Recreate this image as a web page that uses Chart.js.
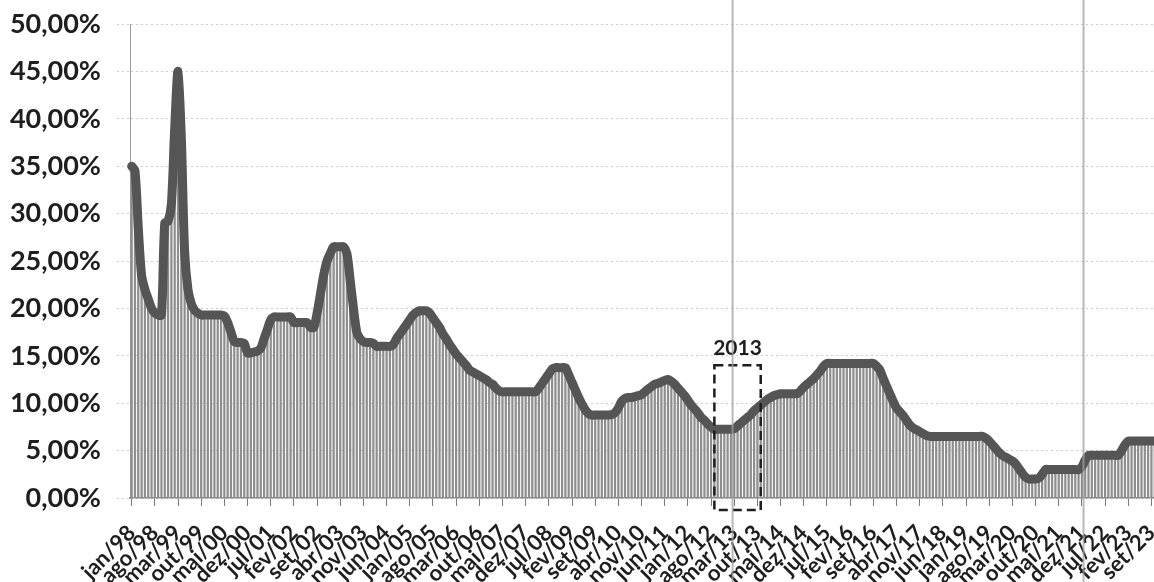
<!DOCTYPE html>
<html>
<head>
<meta charset="utf-8">
<script src="https://cdn.jsdelivr.net/npm/chart.js@4.4.1/dist/chart.umd.min.js"></script>
<style>
    html, body { margin: 0; padding: 0; background: #fff; overflow: hidden; }
    #wrap { position: relative; width: 1163px; height: 582px; }
</style>
</head>
<body>
<div id="wrap"><canvas id="selicChart"></canvas></div>
<script>
// Monthly rate (% a.a.), one array per year
const r1998 = [35, 34.5, 28.5, 23.5, 22, 21, 20, 19.5, 19.3, 19.3, 29, 29.2];
const r1999 = [31, 39, 45, 38, 26, 22, 20.5, 19.8, 19.5, 19.3, 19.3, 19.3];
const r2000 = [19.3, 19.3, 19.3, 19.3, 19.2, 18.5, 17.5, 16.5, 16.4, 16.4, 16.3, 15.3];
const r2001 = [15.3, 15.4, 15.5, 15.8, 16.8, 17.8, 18.8, 19.1, 19.1, 19.1, 19.1, 19.1];
const r2002 = [19.1, 18.5, 18.5, 18.5, 18.5, 18.5, 18, 18, 19.5, 21.5, 23.5, 25];
const r2003 = [25.8, 26.5, 26.5, 26.5, 26.5, 25.8, 23, 20, 17.5, 16.8, 16.5, 16.4];
const r2004 = [16.4, 16.3, 16, 16, 16, 16, 16, 16.2, 16.8, 17.3, 17.8, 18.3];
const r2005 = [18.8, 19.3, 19.6, 19.75, 19.75, 19.75, 19.5, 19, 18.5, 18, 17.3, 16.8];
const r2006 = [16.2, 15.7, 15.2, 14.8, 14.4, 14, 13.5, 13.3, 13.1, 12.9, 12.7, 12.5];
const r2007 = [12.2, 12, 11.6, 11.3, 11.2, 11.2, 11.2, 11.2, 11.2, 11.2, 11.2, 11.2];
const r2008 = [11.2, 11.2, 11.2, 11.6, 12.1, 12.6, 13.1, 13.6, 13.75, 13.75, 13.75, 13.75];
const r2009 = [13, 12.2, 11.4, 10.6, 9.9, 9.3, 8.9, 8.75, 8.75, 8.75, 8.75, 8.75];
const r2010 = [8.75, 8.8, 9, 9.5, 10.2, 10.5, 10.6, 10.6, 10.7, 10.8, 10.9, 11.2];
const r2011 = [11.5, 11.75, 12, 12.1, 12.25, 12.4, 12.5, 12.3, 12, 11.6, 11.2, 10.8];
const r2012 = [10.3, 9.8, 9.4, 9, 8.5, 8.2, 7.8, 7.5, 7.25, 7.25, 7.25, 7.25];
const r2013 = [7.25, 7.25, 7.3, 7.6, 7.9, 8.2, 8.5, 8.8, 9.2, 9.5, 9.8, 10.1];
const r2014 = [10.4, 10.6, 10.8, 10.9, 11, 11, 11, 11, 11, 11, 11.3, 11.7];
const r2015 = [12, 12.3, 12.6, 13, 13.4, 13.9, 14.2, 14.2, 14.2, 14.2, 14.2, 14.2];
const r2016 = [14.2, 14.2, 14.2, 14.2, 14.2, 14.2, 14.2, 14.2, 14.2, 13.9, 13.5, 12.6];
const r2017 = [11.8, 11, 10.2, 9.5, 9.1, 8.7, 8.2, 7.7, 7.4, 7.2, 7, 6.8];
const r2018 = [6.6, 6.5, 6.5, 6.5, 6.5, 6.5, 6.5, 6.5, 6.5, 6.5, 6.5, 6.5];
const r2019 = [6.5, 6.5, 6.5, 6.5, 6.5, 6.5, 6.3, 6, 5.6, 5.2, 4.8, 4.5];
const r2020 = [4.3, 4.1, 3.9, 3.6, 3.1, 2.6, 2.2, 2, 2, 2, 2.1, 2.5];
const r2021 = [3, 3, 3, 3, 3, 3, 3, 3, 3, 3, 3, 3.3];
const r2022 = [4, 4.5, 4.5, 4.5, 4.5, 4.5, 4.5, 4.5, 4.5, 4.5, 4.5, 5];
const r2023 = [5.6, 6, 6, 6, 6, 6, 6, 6, 6, 6, 6, 6];

const years = [1998, 1999, 2000, 2001, 2002, 2003, 2004, 2005, 2006, 2007, 2008, 2009, 2010,
               2011, 2012, 2013, 2014, 2015, 2016, 2017, 2018, 2019, 2020, 2021, 2022, 2023];
const monthNames = ['jan', 'fev', 'mar', 'abr', 'mai', 'jun', 'jul', 'ago', 'set', 'out', 'nov', 'dez'];
const yTicks = [0, 5, 10, 15, 20, 25, 30, 35, 40, 45, 50];

const rates = [].concat(r1998, r1999, r2000, r2001, r2002, r2003, r2004, r2005, r2006,
    r2007, r2008, r2009, r2010, r2011, r2012, r2013, r2014, r2015, r2016, r2017,
    r2018, r2019, r2020, r2021, r2022, r2023);

const labels = [];
years.forEach(y => monthNames.forEach(m => labels.push(m + '/' + String(y).slice(2))));

// Dashed box around 2013 and the two grey scan lines of the original
const box2013 = { from: 'set/12', to: 'nov/13', top: 14, text: '2013' };
const scanLines = ['fev/13', 'dez/21'];

const overlay = {
    id: 'overlay',
    afterDraw(chart) {
        const ctx = chart.ctx;
        const x = chart.scales.x;
        const y = chart.scales.y;
        const step = x.getPixelForValue(1) - x.getPixelForValue(0);

        // dashed box
        const x0 = x.getPixelForValue(labels.indexOf(box2013.from));
        const x1 = x.getPixelForValue(labels.indexOf(box2013.to));
        const y0 = y.getPixelForValue(box2013.top);
        const y1 = y.getPixelForValue(0) + 12;
        ctx.save();
        ctx.setLineDash([9, 5]);
        ctx.lineWidth = 2.5;
        ctx.strokeStyle = '#1e1e1e';
        ctx.strokeRect(x0, y0, x1 - x0, y1 - y0);
        ctx.setLineDash([]);
        ctx.fillStyle = '#1e1e1e';
        ctx.font = 'bold 21px Lato';
        ctx.textAlign = 'center';
        ctx.textBaseline = 'bottom';
        ctx.fillText(box2013.text, (x0 + x1) / 2, y0 - 7);

        // scan lines
        ctx.strokeStyle = 'rgba(160,160,160,0.75)';
        ctx.lineWidth = 2;
        scanLines.forEach(l => {
            const px = x.getPixelForValue(labels.indexOf(l)) + step / 2;
            ctx.beginPath();
            ctx.moveTo(px, 0);
            ctx.lineTo(px, chart.height);
            ctx.stroke();
        });
        ctx.restore();
    }
};

const ctx1 = document.getElementById('selicChart');
new Chart(ctx1, {
    type: 'bar',
    data: {
        labels: labels,
        datasets: [{
            type: 'line',
            data: rates,
            borderColor: '#555555',
            borderWidth: 9,
            pointRadius: 0,
            tension: 0.3,
            borderJoinStyle: 'round',
            borderCapStyle: 'round',
            order: 0
        }, {
            data: rates,
            backgroundColor: '#8e8e8e',
            barPercentage: 0.68,
            categoryPercentage: 1.0,
            order: 1
        }]
    },
    options: {
        responsive: true,
        maintainAspectRatio: false,
        animation: false,
        layout: { padding: { top: 24, left: 0, right: 0, bottom: 0 } },
        plugins: {
            legend: { display: false },
            tooltip: { enabled: false }
        },
        scales: {
            y: {
                min: 0,
                max: 50,
                afterFit: s => { s.width = 130; s.paddingTop = 0; s.paddingBottom = 0; },
                afterBuildTicks: s => { s.ticks = yTicks.map(v => ({ value: v })); },
                ticks: {
                    padding: 16,
                    color: '#1e1e1e',
                    font: { family: 'Lato', size: 27, weight: 'bold' },
                    callback: v => v.toFixed(2).replace('.', ',') + '%'
                },
                grid: {
                    color: 'rgba(0,0,0,0.2)',
                    tickColor: 'rgba(0,0,0,0.2)',
                    tickLength: 13,
                    tickBorderDash: [2, 3],
                    lineWidth: 1
                },
                border: { color: '#9a9a9a', dash: [2, 3] }
            },
            x: {
                afterFit: s => { s.height = 84; s.paddingLeft = 0; s.paddingRight = 0; },
                ticks: {
                    autoSkip: false,
                    minRotation: 45,
                    maxRotation: 45,
                    padding: 14,
                    color: '#1e1e1e',
                    font: { family: 'Lato', size: 22, weight: 'bold' },
                    callback: (v, i) => (i % 7 === 0 ? labels[i] : null)
                },
                grid: {
                    offset: false,
                    drawOnChartArea: false,
                    tickLength: 8,
                    color: '#7a7a7a'
                },
                border: { color: '#8a8a8a', width: 1.5 }
            }
        }
    },
    plugins: [overlay]
});
</script>
</body>
</html>
